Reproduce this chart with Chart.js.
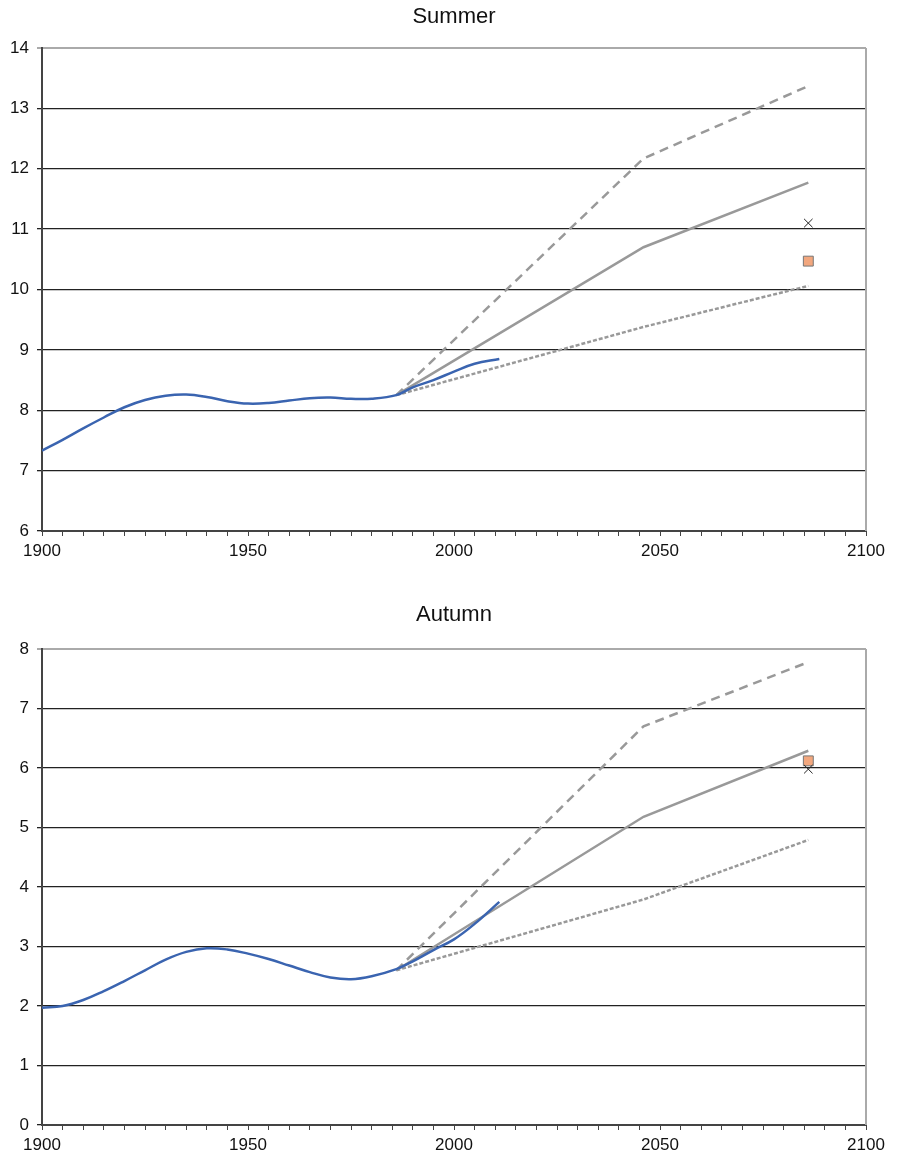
<!DOCTYPE html>
<html>
<head>
<meta charset="utf-8">
<script src="https://cdn.jsdelivr.net/npm/chart.js@4/dist/chart.umd.min.js"></script>
<style>
  body { margin: 0; background: #fff; }
  canvas { display: block; }
</style>
</head>
<body>
<canvas id="summer" width="897" height="585"></canvas>
<canvas id="autumn" width="897" height="574"></canvas>
<script>
// observed series (smoothed blue line)
const obsYears = [1900, 1905, 1910, 1915, 1920, 1925, 1930, 1935, 1940, 1945, 1950, 1955, 1960, 1965, 1970, 1975, 1980, 1986, 1990, 1995, 2000, 2005, 2011];
const summerObs = [7.33, 7.51, 7.7, 7.88, 8.05, 8.17, 8.24, 8.26, 8.22, 8.15, 8.11, 8.12, 8.16, 8.2, 8.21, 8.19, 8.19, 8.25, 8.38, 8.5, 8.64, 8.77, 8.85];
const autumnObs = [1.97, 2.0, 2.1, 2.25, 2.42, 2.6, 2.78, 2.91, 2.97, 2.95, 2.88, 2.79, 2.68, 2.57, 2.48, 2.45, 2.5, 2.62, 2.75, 2.94, 3.12, 3.38, 3.75];

// scenario lines
const scenYears = [1986, 2046, 2086];
const summerHigh = [8.25, 12.17, 13.37];
const summerMid = [8.25, 10.70, 11.77];
const summerLow = [8.25, 9.38, 10.06];
const autumnHigh = [2.6, 6.7, 7.78];
const autumnMid = [2.6, 5.18, 6.29];
const autumnLow = [2.6, 3.79, 4.79];

// single markers at end of period
const markerYear = 2086;
const summerCross = 11.10;
const summerSquare = 10.47;
const autumnCross = 5.98;
const autumnSquare = 6.12;

const xTickLabels = [1900, 1950, 2000, 2050, 2100];

const font = "'Liberation Sans', Arial, sans-serif";

function pts(xs, ys) {
  return xs.map((x, i) => ({ x: x, y: ys[i] }));
}

const rightBorder = {
  id: 'rightBorder',
  afterDatasetsDraw(chart) {
    const a = chart.chartArea, c = chart.ctx;
    c.save();
    c.strokeStyle = '#aaaaaa';
    c.lineWidth = 2;
    c.beginPath();
    c.moveTo(a.right, a.top);
    c.lineTo(a.right, a.bottom);
    c.stroke();
    c.restore();
  }
};

function makeChart(id, title, obs, high, mid, low, cross, square, yMin, yMax, titlePad, xAxisH) {
  const grey = '#999999';
  return new Chart(document.getElementById(id), {
    type: 'line',
    data: {
      datasets: [
        { data: pts(obsYears, obs), borderColor: '#3a64b0', borderWidth: 2.5, pointRadius: 0, tension: 0.4 },
        { data: [{ x: markerYear, y: cross }], showLine: false, pointStyle: 'crossRot', pointRadius: 6,
          borderColor: '#222', borderWidth: 1 },
        { data: [{ x: markerYear, y: square }], showLine: false, pointStyle: 'rect', pointRadius: 7,
          backgroundColor: '#f2a77e', borderColor: '#777', borderWidth: 1 },
        { data: pts(scenYears, mid), borderColor: grey, borderWidth: 2.5, pointRadius: 0, tension: 0 },
        { data: pts(scenYears, high), borderColor: grey, borderWidth: 2.5, pointRadius: 0, tension: 0, borderDash: [9, 6] },
        { data: pts(scenYears, low), borderColor: grey, borderWidth: 2.5, pointRadius: 0, tension: 0, borderDash: [4, 2] }
      ]
    },
    options: {
      responsive: false,
      animation: false,
      layout: { padding: { left: 0, right: 31, top: 0, bottom: 0 } },
      plugins: {
        legend: { display: false },
        tooltip: { enabled: false },
        title: {
          display: true, text: title, fullSize: false, color: '#111',
          font: { family: font, size: 22, weight: 'normal' }, padding: titlePad
        }
      },
      scales: {
        x: {
          type: 'linear', min: 1900, max: 2100,
          afterFit: s => { s.height = xAxisH; },
          ticks: {
            stepSize: 5, autoSkip: false, maxRotation: 0, padding: 5, color: '#111',
            font: { family: font, size: 17 },
            callback: v => xTickLabels.includes(v) ? String(v) : ''
          },
          grid: { drawOnChartArea: false, drawTicks: true, tickLength: 5, color: '#444' },
          border: { display: true, color: '#444', width: 2 }
        },
        y: {
          min: yMin, max: yMax,
          afterFit: s => { s.width = 42; },
          ticks: { stepSize: 1, padding: 8, color: '#111', font: { family: font, size: 17 } },
          grid: {
            color: c => c.tick && c.tick.value === yMax ? '#aaaaaa' : '#222',
            lineWidth: c => c.tick && c.tick.value === yMax ? 2 : 1.3,
            tickLength: 5
          },
          border: { display: true, color: '#444', width: 2 }
        }
      }
    },
    plugins: [rightBorder]
  });
}

makeChart('summer', 'Summer', summerObs, summerHigh, summerMid, summerLow, summerCross, summerSquare, 6, 14,
  { top: 4, bottom: 17.6 }, 54);
makeChart('autumn', 'Autumn', autumnObs, autumnHigh, autumnMid, autumnLow, autumnCross, autumnSquare, 0, 8,
  { top: 16.8, bottom: 20.8 }, 34);
</script>
</body>
</html>
